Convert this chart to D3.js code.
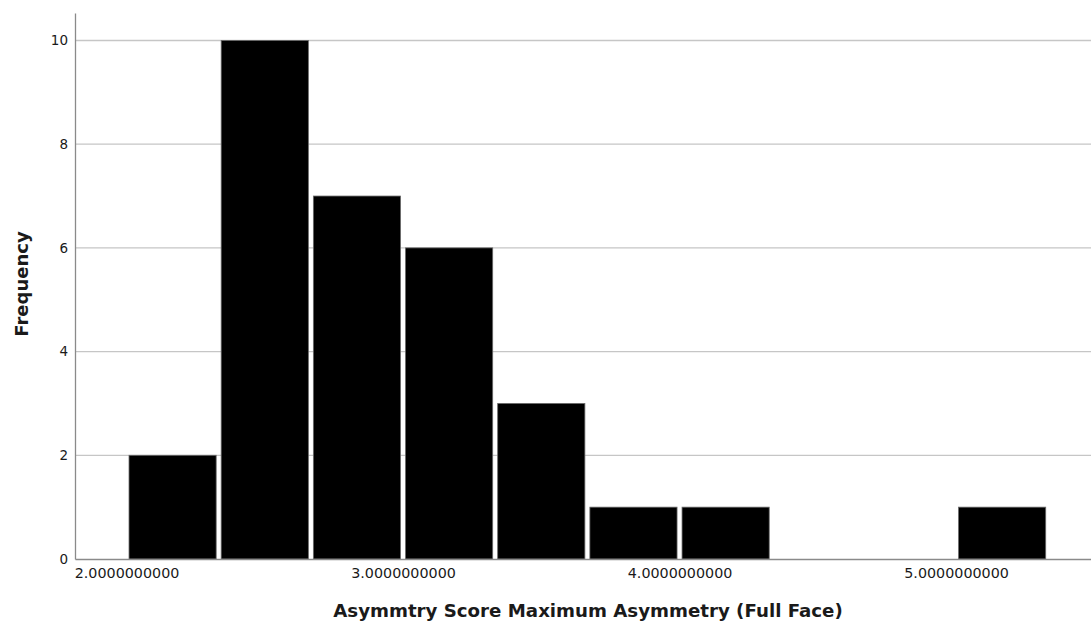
<!DOCTYPE html>
<html>
<head>
<meta charset="utf-8">
<script src="https://cdn.jsdelivr.net/npm/d3@7"></script>
<style>
  html, body { margin: 0; padding: 0; background: #fff; }
  svg { display: block; }
  text { font-family: "DejaVu Sans", sans-serif; fill: #1a1a1a; }
</style>
</head>
<body>
<svg id="chart" width="1091" height="627"></svg>
<script>
// Histogram: bin edges and frequency in each bin
const binEdges = [2.0, 2.3333, 2.6667, 3.0, 3.3333, 3.6667, 4.0, 4.3333, 4.6667, 5.0, 5.3333];
const frequencies = [2, 10, 7, 6, 3, 1, 1, 0, 0, 1];
const xTickValues = [2, 3, 4, 5];
const xTickLabels = ["2.0000000000", "3.0000000000", "4.0000000000", "5.0000000000"];
const yTickValues = [0, 2, 4, 6, 8, 10];
const xTitle = "Asymmtry Score Maximum Asymmetry (Full Face)";
const yTitle = "Frequency";

const bins = frequencies.map((f, i) => ({ x0: binEdges[i], x1: binEdges[i + 1], count: f }));

const svg = d3.select("#chart");
const plot = { left: 75, right: 1091, top: 13, bottom: 559 };

const x = d3.scaleLinear().domain([1.8137, 5.488]).range([plot.left, plot.right]);
const y = d3.scaleLinear().domain([0, 10.53]).range([plot.bottom, plot.top]);

// horizontal gridlines
svg.append("g")
  .selectAll("line")
  .data(yTickValues.filter(v => v > 0))
  .join("line")
  .attr("x1", plot.left).attr("x2", plot.right)
  .attr("y1", d => y(d)).attr("y2", d => y(d))
  .attr("stroke", "#c6c6c6")
  .attr("stroke-width", 1.3);

// bars
const inset = 2.5;
svg.append("g")
  .selectAll("rect")
  .data(bins.filter(b => b.count > 0))
  .join("rect")
  .attr("x", d => x(d.x0) + inset)
  .attr("width", d => x(d.x1) - x(d.x0) - 2 * inset)
  .attr("y", d => y(d.count))
  .attr("height", d => y(0) - y(d.count))
  .attr("fill", "#000")
  .attr("stroke", "#6a6a6a")
  .attr("stroke-width", 0.8);

// y axis
const yAxis = svg.append("g")
  .attr("transform", `translate(${plot.left},0)`)
  .call(d3.axisLeft(y).tickValues(yTickValues).tickSize(0).tickPadding(7).tickFormat(d3.format("d")));
yAxis.select(".domain").attr("stroke", "#8a8a8a").attr("stroke-width", 1.3);
yAxis.selectAll("text").style("font-size", "13.5px").attr("fill", "#1a1a1a");

// x axis
const xAxis = svg.append("g")
  .attr("transform", `translate(0,${plot.bottom})`)
  .call(d3.axisBottom(x).tickValues(xTickValues).tickSize(0).tickPadding(9)
    .tickFormat((d, i) => xTickLabels[i]));
xAxis.select(".domain").attr("stroke", "#8a8a8a").attr("stroke-width", 1.3);
xAxis.selectAll("text").style("font-size", "14.3px").attr("fill", "#1a1a1a");

// axis titles
svg.append("text")
  .attr("x", 588).attr("y", 617)
  .attr("text-anchor", "middle")
  .style("font-size", "18.2px")
  .style("font-weight", "bold")
  .text(xTitle);

svg.append("text")
  .attr("transform", "translate(28,284) rotate(-90)")
  .attr("text-anchor", "middle")
  .style("font-size", "18px")
  .style("font-weight", "bold")
  .text(yTitle);
</script>
</body>
</html>
